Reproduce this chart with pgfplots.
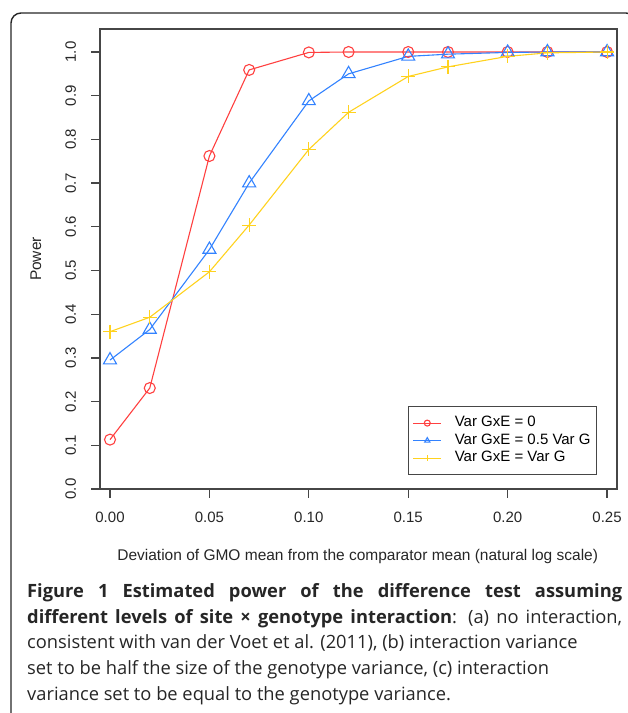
\documentclass[border=0pt]{standalone}
\usepackage{fontspec}
\setmainfont{Liberation Sans}
\newfontfamily\capfont{Open Sans}
\usepackage{pgfplots}
\pgfplotsset{compat=1.18}

\definecolor{cRed}{RGB}{255,64,64}
\definecolor{cBlue}{RGB}{50,130,255}
\definecolor{cGold}{RGB}{255,210,30}
\definecolor{frameg}{RGB}{70,70,70}

\pgfplotstableread{
x     red    blue   gold
0.00  0.113  0.295  0.360
0.02  0.231  0.365  0.393
0.05  0.762  0.548  0.497
0.07  0.959  0.700  0.604
0.10  0.999  0.888  0.777
0.12  1.000  0.950  0.862
0.15  1.000  0.990  0.944
0.17  1.000  0.995  0.966
0.20  1.000  0.999  0.990
0.22  1.000  1.000  0.998
0.25  1.000  1.000  1.000
}\powerdata

\begin{document}
\begin{tikzpicture}[x=1pt,y=1pt]
\useasboundingbox (0,0) rectangle (628,-713);
\draw[black!85, line width=1.4pt, rounded corners=10pt] (11,-780) rectangle (636,-13);

\begin{axis}[at={(100pt,-489pt)}, anchor=south west, scale only axis,
  width=517pt, height=460pt,
  xmin=-0.00503, xmax=0.255, ymin=0, ymax=1.0526,
  axis line style={frameg, line width=1.2pt},
  xtick={0,0.05,0.10,0.15,0.20,0.25},
  xticklabels={0.00,0.05,0.10,0.15,0.20,0.25},
  ytick={0,0.1,0.2,0.3,0.4,0.5,0.6,0.7,0.8,0.9,1.0},
  yticklabels={0.0,0.1,0.2,0.3,0.4,0.5,0.6,0.7,0.8,0.9,1.0},
  tick pos=left, tick align=outside, major tick length=8.5pt,
  tick style={frameg, line width=1.2pt},
  ticklabel style={font=\fontsize{15}{18}\selectfont, text=black!85},
  yticklabel style={xshift=-12pt, rotate=90, anchor=south},
  xticklabel style={anchor=base, yshift=-25pt},
  xlabel={Deviation of GMO mean from the comparator mean (natural log scale)},
  ylabel={Power},
  label style={font=\fontsize{15.5}{18}\selectfont, text=black!85},
  xlabel style={at={(axis description cs:0.4985,-0.1565)}, anchor=base},
  ylabel style={at={(axis description cs:-0.1141,0.5)}, anchor=base},
  legend style={at={(axis description cs:0.596,0.181)}, anchor=north west,
    draw=frameg, line width=1.2pt, inner xsep=4pt, inner ysep=8.5pt,
    font=\fontsize{15}{18}\selectfont, row sep=1pt, column sep=11pt,
    nodes={inner ysep=1.5pt, text height=10.5pt, text depth=3pt}},
  legend cell align=left,
  legend image code/.code={
    \draw[#1, mark size=3pt, mark indices={2}] plot coordinates {(0pt,0pt) (14pt,0pt) (28pt,0pt)};
  },
]
\addplot[cRed, line width=1.1pt, mark=o, mark size=5.5pt] table[x=x,y=red] {\powerdata};
\addlegendentry{Var GxE = 0}
\addplot[cBlue, line width=1.1pt, mark=triangle, mark size=7.5pt] table[x=x,y=blue] {\powerdata};
\addlegendentry{Var GxE = 0.5 Var G}
\addplot[cGold, line width=1.1pt, mark=+, mark size=7pt] table[x=x,y=gold] {\powerdata};
\addlegendentry{Var GxE = Var G}
\end{axis}

\begin{scope}[every node/.style={anchor=base west, inner sep=0pt, font=\capfont\fontsize{18.3}{26}\selectfont, text=black!85}]
\node at (27,-597) {\makebox[595pt][s]{\bfseries Figure 1 Estimated power of the difference test assuming}};
\node at (27,-623) {\makebox[595pt][s]{\textbf{different levels of site × genotype interaction}: (a) no interaction,}};
\node at (27,-648) {consistent with van der Voet et al. (2011), (b) interaction variance};
\node at (27,-674) {set to be half the size of the genotype variance, (c) interaction};
\node at (27,-700) {variance set to be equal to the genotype variance.};
\end{scope}
\end{tikzpicture}
\end{document}
